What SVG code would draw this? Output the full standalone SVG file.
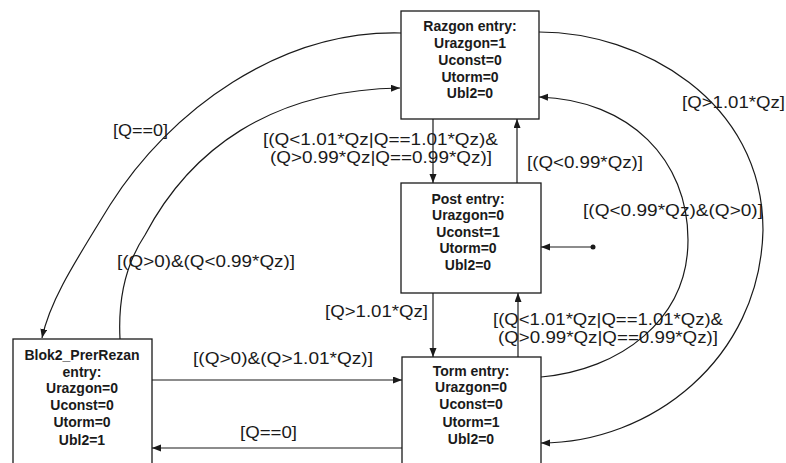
<svg xmlns="http://www.w3.org/2000/svg" width="786" height="463" viewBox="0 0 786 463">
  <defs>
    <marker id="arrow" markerUnits="userSpaceOnUse" markerWidth="10" markerHeight="8" refX="9" refY="3.5" orient="auto">
      <path d="M0,0 L9,3.5 L0,7 Z" fill="#1a1a1a"/>
    </marker>
    <style>
      .box { fill: #ffffff; stroke: #1a1a1a; stroke-width: 1.3; }
      .st { font-family: "Liberation Sans", Arial, sans-serif; font-weight: bold; font-size: 14px; fill: #1a1a1a; text-anchor: middle; }
      .lbl { font-family: "Liberation Sans", Arial, sans-serif; font-size: 16px; fill: #1a1a1a; }
      .edge { fill: none; stroke: #1a1a1a; stroke-width: 1.2; }
      .arr { marker-end: url(#arrow); }
    </style>
  </defs>
  <rect width="786" height="463" fill="#ffffff"/>

  <!-- transitions -->
  <g id="connectors">
    <!-- Razgon -> Blok2 [Q==0] -->
    <path class="edge arr" d="M401,33 C280,30 170,110 110,205 C75,262 50,300 42,338"/>
    <!-- Blok2 -> Razgon -->
    <path class="edge arr" d="M120,339 C118,300 125,265 145,235 C190,150 270,90 400,88"/>
    <!-- Razgon -> Post -->
    <path class="edge arr" d="M433,119 L433,183"/>
    <!-- Post -> Razgon -->
    <path class="edge arr" d="M517,183 L517,119"/>
    <!-- Post -> Torm -->
    <path class="edge arr" d="M433,293 L433,357"/>
    <!-- Torm -> Post -->
    <path class="edge arr" d="M518,357 L518,293"/>
    <!-- Blok2 -> Torm -->
    <path class="edge arr" d="M152,380 L402,380"/>
    <!-- Torm -> Blok2 -->
    <path class="edge arr" d="M402,448 L152,448"/>
    <!-- default transition into Post -->
    <path class="edge arr" d="M593,247 L541,247"/>
    <circle cx="593" cy="247" r="2.5" fill="#1a1a1a"/>
    <!-- Razgon -> Torm (outer arc) -->
    <path class="edge arr" d="M539,32 C640,32 763,100 763,230 C760,360 650,443 541,443"/>
    <!-- Torm -> Razgon (inner arc) -->
    <path class="edge arr" d="M541,377 C620,370 688,320 688,240 C688,160 630,100 539,97"/>

    <text class="lbl" x="113" y="136" textLength="55" lengthAdjust="spacingAndGlyphs">[Q==0]</text>
    <text class="lbl" x="263" y="145" textLength="235" lengthAdjust="spacingAndGlyphs">[(Q&lt;1.01*Qz|Q==1.01*Qz)&amp;</text>
    <text class="lbl" x="270" y="163" textLength="222" lengthAdjust="spacingAndGlyphs">(Q&gt;0.99*Qz|Q==0.99*Qz)]</text>
    <text class="lbl" x="527" y="168" textLength="116" lengthAdjust="spacingAndGlyphs">[(Q&lt;0.99*Qz)]</text>
    <text class="lbl" x="583" y="216" textLength="180" lengthAdjust="spacingAndGlyphs">[(Q&lt;0.99*Qz)&amp;(Q&gt;0)]</text>
    <text class="lbl" x="682" y="108" textLength="103" lengthAdjust="spacingAndGlyphs">[Q&gt;1.01*Qz]</text>
    <text class="lbl" x="117" y="267" textLength="178" lengthAdjust="spacingAndGlyphs">[(Q&gt;0)&amp;(Q&lt;0.99*Qz)]</text>
    <text class="lbl" x="325" y="317" textLength="103" lengthAdjust="spacingAndGlyphs">[Q&gt;1.01*Qz]</text>
    <text class="lbl" x="493" y="325" textLength="230" lengthAdjust="spacingAndGlyphs">[(Q&lt;1.01*Qz|Q==1.01*Qz)&amp;</text>
    <text class="lbl" x="498" y="343" textLength="220" lengthAdjust="spacingAndGlyphs">(Q&gt;0.99*Qz|Q==0.99*Qz)]</text>
    <text class="lbl" x="193" y="364" textLength="180" lengthAdjust="spacingAndGlyphs">[(Q&gt;0)&amp;(Q&gt;1.01*Qz)]</text>
    <text class="lbl" x="240" y="438" textLength="57" lengthAdjust="spacingAndGlyphs">[Q==0]</text>
  </g>

  <g id="razgon">
    <rect class="box" x="401" y="11" width="138" height="108"/>
    <text class="st" x="470" y="31">Razgon entry:</text>
    <text class="st" x="470" y="48">Urazgon=1</text>
    <text class="st" x="470" y="65">Uconst=0</text>
    <text class="st" x="470" y="82">Utorm=0</text>
    <text class="st" x="470" y="98">Ubl2=0</text>
  </g>

  <g id="post">
    <rect class="box" x="401" y="183" width="140" height="110"/>
    <text class="st" x="468" y="204">Post entry:</text>
    <text class="st" x="468" y="220">Urazgon=0</text>
    <text class="st" x="468" y="237">Uconst=1</text>
    <text class="st" x="468" y="253">Utorm=0</text>
    <text class="st" x="468" y="270">Ubl2=0</text>
  </g>

  <g id="torm">
    <rect class="box" x="402" y="357" width="139" height="120"/>
    <text class="st" x="471" y="376">Torm entry:</text>
    <text class="st" x="471" y="392">Urazgon=0</text>
    <text class="st" x="471" y="409">Uconst=0</text>
    <text class="st" x="471" y="427">Utorm=1</text>
    <text class="st" x="471" y="444">Ubl2=0</text>
  </g>

  <g id="blok2">
    <rect class="box" x="13" y="339" width="139" height="130"/>
    <text class="st" x="82" y="360">Blok2_PrerRezan</text>
    <text class="st" x="82" y="377">entry:</text>
    <text class="st" x="82" y="393">Urazgon=0</text>
    <text class="st" x="82" y="410">Uconst=0</text>
    <text class="st" x="82" y="427">Utorm=0</text>
    <text class="st" x="82" y="445">Ubl2=1</text>
  </g>
</svg>
